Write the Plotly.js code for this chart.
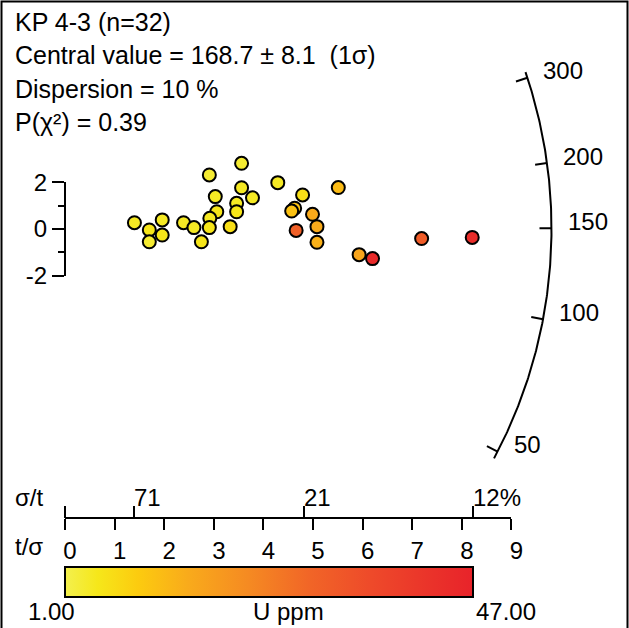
<!DOCTYPE html>
<html>
<head>
<meta charset="utf-8">
<script src="https://cdn.plot.ly/plotly-3.0.1.min.js"></script>
<style>html,body{margin:0;padding:0;background:#fff;}#chart{width:629px;height:628px;}</style>
</head>
<body>
<div id="chart"></div>
<script>
// ---- data ----
const precision = [1.40,1.70,1.70,1.96,1.96,2.39,2.60,2.75,2.91,3.03,3.06,2.92,2.91,3.33,3.46,3.46,3.56,3.56,3.78,4.29,4.79,4.63,4.57,4.66,4.99,5.08,5.08,5.51,5.93,6.20,7.19,8.21]; // t/sigma
const stdEstimate = [0.27,-0.04,-0.55,0.39,-0.26,0.27,0.06,-0.55,2.32,1.39,0.74,0.46,0.06,0.10,1.10,0.74,2.82,1.77,1.34,1.99,1.46,0.89,0.77,-0.06,0.63,0.10,-0.57,1.78,-1.10,-1.27,-0.41,-0.36];
const uPpm = [4,5,3,4,5,4,4,5,3,4,5,4,5,6,4,5,3,4,4,4,6,11,11,30,15,15,14,12,16,45,31,44];
const arcAges = [50,100,150,200,300];
const refAge = 149.5;
const tsTicks = [0,1,2,3,4,5,6,7,8,9];
const stTickPos = [0,1.39,4.82,8.23];
const stTickText = ['','71','21','12%'];
const infoLines = ['KP 4-3 (n=32)','Central value = 168.7 \u00b1 8.1 \u00a0(1\u03c3)','Dispersion = 10 %','P(\u03c7\u00b2) = 0.39'];
const uRange = [1,47];

// ---- layout geometry ----
const W=629,H=628;
const X0=65, KX=49.6;     // px of t/sigma=0, px per unit
const Y0=229, KY=23.3;    // px of z=0, px per unit
const R=486.5;            // arc radius px
const FONT='Liberation Sans, Arial, sans-serif';

const colorscale=[[0,'#f3f04e'],[0.08,'#f6e71a'],[0.18,'#fccb0f'],[0.3,'#f9ab1b'],[0.45,'#f58a22'],[0.6,'#f16527'],[0.75,'#ee4a2a'],[0.9,'#ea322a'],[1,'#e8232a']];

function angOf(age){ const s=Math.log(age/refAge); return Math.atan2(KY*s, KX); }
function arcPt(phi, r){ return [r*Math.cos(phi)/KX, r*Math.sin(phi)/KY]; }

// arc
const phiTop = angOf(Math.max(...arcAges)) + 0.7*Math.PI/180;
const phiBot = angOf(Math.min(...arcAges)) - 0.9*Math.PI/180;
const ax=[], ay=[];
for(let i=0;i<=200;i++){ const p=phiBot+(phiTop-phiBot)*i/200; const q=arcPt(p,R); ax.push(q[0]); ay.push(q[1]); }
const tx=[], ty=[];
arcAges.forEach(a=>{ const p=angOf(a); const o=arcPt(p,R), n=arcPt(p,R-12); tx.push(o[0],n[0],null); ty.push(o[1],n[1],null); });

const traces=[
 {x:[0],y:[0],xaxis:'x2',yaxis:'y2',mode:'markers',marker:{opacity:0},hoverinfo:'skip'},
 {x:[0],y:[0],xaxis:'x3',yaxis:'y2',mode:'markers',marker:{opacity:0},hoverinfo:'skip'},
 {x:ax,y:ay,mode:'lines',line:{color:'#000',width:2},hoverinfo:'skip'},
 {x:tx,y:ty,mode:'lines',line:{color:'#000',width:2},hoverinfo:'skip'},
 {x:precision,y:stdEstimate,mode:'markers',
  marker:{size:13,color:uPpm,cmin:uRange[0],cmax:uRange[1],colorscale:colorscale,line:{color:'#000',width:2},
   showscale:true,
   colorbar:{orientation:'h',thicknessmode:'pixels',thickness:30,lenmode:'pixels',len:408,
     x:(65+473)/2/W,xanchor:'center',y:(H-566.5)/H,yanchor:'top',xpad:0,ypad:0,
     outlinewidth:2,outlinecolor:'#000',ticks:'',showticklabels:false}},
  hoverinfo:'skip'}
];

const annotations=[];
const lineY=[22,55,89,122];
infoLines.forEach((t,i)=>annotations.push({text:t,xref:'paper',yref:'paper',x:13/W,y:(H-lineY[i])/H,xanchor:'left',yanchor:'middle',showarrow:false,font:{family:FONT,size:25,color:'#000'}}));
arcAges.forEach(a=>{ const q=arcPt(angOf(a),R); annotations.push({text:String(a),x:q[0],y:q[1],xref:'x',yref:'y',xanchor:'left',yanchor:'middle',xshift:14,yshift:7,showarrow:false,font:{family:FONT,size:24,color:'#000'}}); });
stTickPos.forEach((v,i)=>{ if(stTickText[i]) annotations.push({text:stTickText[i],x:v,xref:'x2',yref:'paper',y:(H-497)/H,xanchor:'left',yanchor:'middle',xshift:-2,showarrow:false,font:{family:FONT,size:24,color:'#000'}}); });
annotations.push({text:'\u03c3/t',xref:'paper',yref:'paper',x:13/W,y:(H-497)/H,xanchor:'left',yanchor:'middle',showarrow:false,font:{family:FONT,size:24,color:'#000'}});
annotations.push({text:'t/\u03c3',xref:'paper',yref:'paper',x:13/W,y:(H-546)/H,xanchor:'left',yanchor:'middle',showarrow:false,font:{family:FONT,size:24,color:'#000'}});
annotations.push({text:uRange[0].toFixed(2),xref:'paper',yref:'paper',x:52/W,y:(H-611)/H,xanchor:'center',yanchor:'middle',showarrow:false,font:{family:FONT,size:24,color:'#000'}});
annotations.push({text:'U ppm',xref:'paper',yref:'paper',x:288/W,y:(H-611)/H,xanchor:'center',yanchor:'middle',showarrow:false,font:{family:FONT,size:24,color:'#000'}});
annotations.push({text:uRange[1].toFixed(2),xref:'paper',yref:'paper',x:474/W,y:(H-611)/H,xanchor:'left',yanchor:'middle',showarrow:false,font:{family:FONT,size:24,color:'#000'}});

const axisPos=(H-517.7)/H;
const layout={
 width:W,height:H,margin:{l:0,r:0,t:0,b:0},paper_bgcolor:'#fff',plot_bgcolor:'rgba(0,0,0,0)',showlegend:false,
 font:{family:FONT,color:'#000'},
 xaxis:{domain:[0,1],range:[-X0/KX,(W-X0)/KX],visible:false,fixedrange:true},
 yaxis:{domain:[0,1],range:[(Y0-H)/KY,Y0/KY],visible:false,fixedrange:true},
 xaxis2:{domain:[X0/W,(X0+9*KX)/W],range:[0,9],anchor:'free',position:axisPos,showline:true,linewidth:2,linecolor:'#000',
   ticks:'outside',ticklen:11,tickwidth:2,tickcolor:'#000',tickmode:'array',tickvals:tsTicks,ticktext:tsTicks.map(String),
   tickfont:{family:FONT,size:24,color:'#000'},ticklabelshift:5,showgrid:false,zeroline:false,fixedrange:true},
 xaxis3:{overlaying:'x2',side:'top',anchor:'free',position:axisPos,range:[0,9],showline:false,ticks:'outside',ticklen:12,tickwidth:2,tickcolor:'#000',
   tickmode:'array',tickvals:stTickPos,showticklabels:false,showgrid:false,zeroline:false,fixedrange:true},
 yaxis2:{domain:[(H-(Y0+2*KY))/H,(H-(Y0-2*KY))/H],range:[-2,2],anchor:'free',position:X0/W,showline:true,linewidth:2,linecolor:'#000',
   ticks:'outside',ticklen:12,tickwidth:2,tickcolor:'#000',tickmode:'array',tickvals:[-2,0,2],ticktext:['-2','0','2'],
   minor:{tickmode:'array',tickvals:[-1,1],ticks:'outside',ticklen:6,tickwidth:2,tickcolor:'#000'},
   tickfont:{family:FONT,size:24,color:'#000'},showgrid:false,zeroline:false,fixedrange:true},
 shapes:[{type:'rect',xref:'paper',yref:'paper',x0:1.5/W,x1:627.5/W,y0:-20/H,y1:(H-1.5)/H,line:{color:'#000',width:2}}],
 annotations:annotations
};
Plotly.newPlot('chart',traces,layout,{staticPlot:true,displayModeBar:false});
</script>
</body>
</html>
